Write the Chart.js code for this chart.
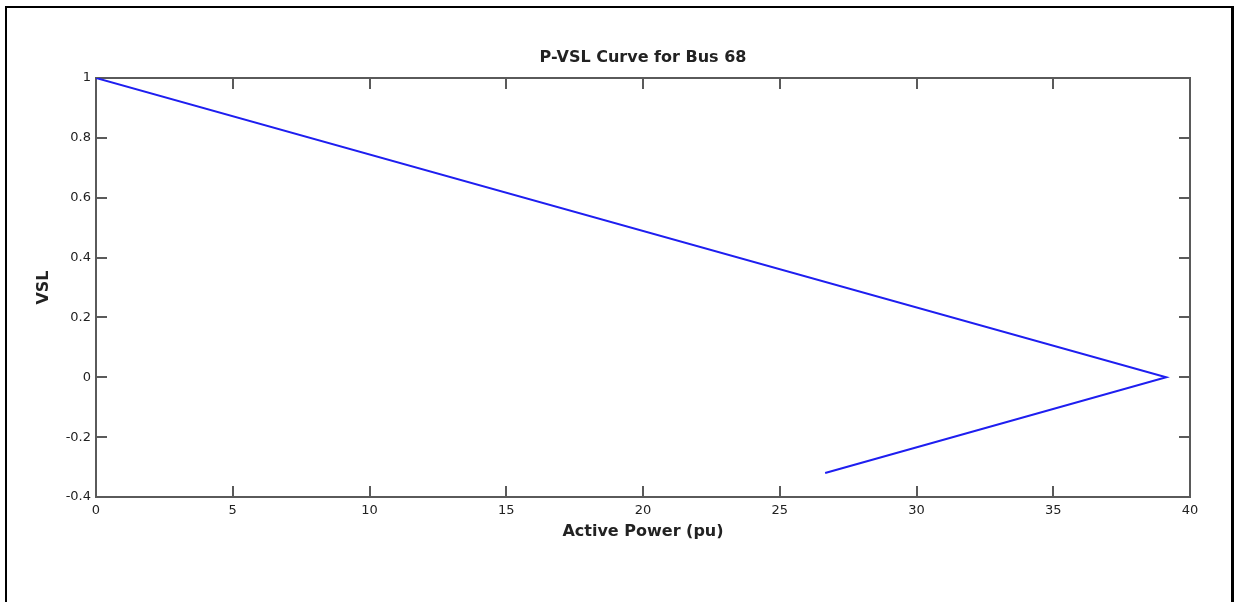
<!DOCTYPE html>
<html>
<head>
<meta charset="utf-8">
<script src="https://cdn.jsdelivr.net/npm/chart.js@4"></script>
<style>
  html, body { margin: 0; padding: 0; background: #fff; }
  #wrap { position: relative; width: 1237px; height: 602px; overflow: hidden; }
  #frame { position: absolute; left: 5px; top: 6px; width: 1229px; height: 700px; box-sizing: border-box; border: 2px solid #000; border-right-width: 3px; pointer-events: none; }
  canvas { position: absolute; left: 0; top: 0; }
</style>
</head>
<body>
<div id="wrap">
  <canvas id="c" width="1237" height="602"></canvas>
  <div id="frame"></div>
</div>
<script>
// Data
const activePower = [0, 39.13, 26.66];
const vsl = [1, 0, -0.32];
const xTicks = [0, 5, 10, 15, 20, 25, 30, 35, 40];
const yTicks = [-0.4, -0.2, 0, 0.2, 0.4, 0.6, 0.8, 1];
const chartTitle = 'P-VSL Curve for Bus 68';
const xTitle = 'Active Power (pu)';
const yTitle = 'VSL';

const points = activePower.map((x, i) => ({ x: x, y: vsl[i] }));

const AXIS_COLOR = '#5a5a5a';
const TEXT_COLOR = '#222222';
const TICK_LEN = 11;
const FONT = 'DejaVu Sans, Verdana, sans-serif';

const boxPlugin = {
  id: 'matlabBox',
  beforeDatasetsDraw(chart) {
    const { ctx, chartArea: a, scales } = chart;
    ctx.save();
    ctx.strokeStyle = AXIS_COLOR;
    ctx.lineWidth = 2;
    ctx.strokeRect(a.left, a.top, a.right - a.left, a.bottom - a.top);
    ctx.beginPath();
    scales.x.ticks.forEach(t => {
      const px = Math.round(scales.x.getPixelForValue(t.value));
      ctx.moveTo(px, a.bottom); ctx.lineTo(px, a.bottom - TICK_LEN);
      ctx.moveTo(px, a.top); ctx.lineTo(px, a.top + TICK_LEN);
    });
    scales.y.ticks.forEach(t => {
      const py = Math.round(scales.y.getPixelForValue(t.value));
      ctx.moveTo(a.left, py); ctx.lineTo(a.left + TICK_LEN, py);
      ctx.moveTo(a.right, py); ctx.lineTo(a.right - TICK_LEN, py);
    });
    ctx.stroke();
    ctx.restore();
  }
};

new Chart(document.getElementById('c'), {
  type: 'scatter',
  data: {
    datasets: [{
      data: points,
      showLine: true,
      borderColor: '#1e1ef0',
      borderWidth: 2,
      pointRadius: 0,
      tension: 0,
      fill: false
    }]
  },
  options: {
    responsive: false,
    animation: false,
    devicePixelRatio: 1,
    layout: { padding: { left: 0, right: 47, top: 0, bottom: 0 } },
    plugins: {
      legend: { display: false },
      tooltip: { enabled: false },
      title: {
        display: true,
        text: chartTitle,
        fullSize: false,
        color: TEXT_COLOR,
        font: { family: FONT, size: 16, weight: 'bold', lineHeight: 1.2 },
        padding: { top: 48.4, bottom: 10.4 }
      }
    },
    scales: {
      x: {
        type: 'linear',
        min: 0, max: 40,
        afterBuildTicks(scale) { scale.ticks = xTicks.map(v => ({ value: v })); },
        afterFit(scale) { scale.height = 105; },
        grid: { display: false, drawTicks: false },
        border: { display: false },
        ticks: {
          color: TEXT_COLOR,
          padding: 6,
          maxRotation: 0,
          autoSkip: false,
          font: { family: FONT, size: 13 },
          callback: v => String(v)
        },
        title: {
          display: true,
          text: xTitle,
          color: TEXT_COLOR,
          font: { family: FONT, size: 16, weight: 'bold', lineHeight: 1.2 },
          padding: { top: 0, bottom: 60.4 }
        }
      },
      y: {
        type: 'linear',
        min: -0.4, max: 1,
        afterBuildTicks(scale) { scale.ticks = yTicks.map(v => ({ value: v })); },
        afterFit(scale) { scale.width = 96; },
        grid: { display: false, drawTicks: false },
        border: { display: false },
        ticks: {
          color: TEXT_COLOR,
          padding: 5,
          autoSkip: false,
          font: { family: FONT, size: 13 },
          callback: v => String(Math.round(v * 10) / 10)
        },
        title: {
          display: true,
          text: yTitle,
          color: TEXT_COLOR,
          font: { family: FONT, size: 16, weight: 'bold', lineHeight: 1.2 },
          padding: { top: 34.4, bottom: 0 }
        }
      }
    }
  },
  plugins: [boxPlugin]
});
</script>
</body>
</html>
